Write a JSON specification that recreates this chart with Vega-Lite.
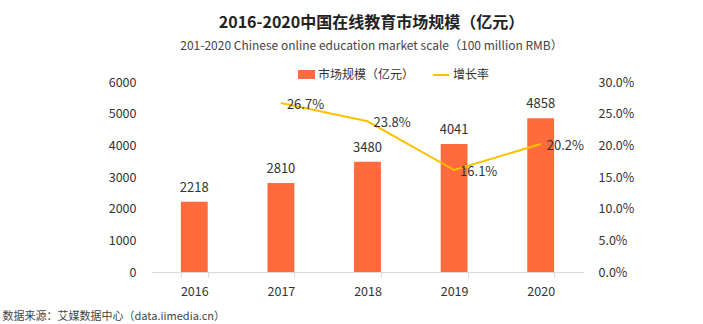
{
  "$schema": "https://vega.github.io/schema/vega-lite/v6.json",
  "width": 433,
  "height": 190,
  "autosize": {"type": "none"},
  "padding": {"left": 151, "top": 82, "right": 119, "bottom": 52},
  "background": "white",
  "config": {
    "font": "Noto Sans CJK SC",
    "view": {"stroke": null},
    "axis": {"grid": false, "labelFont": "Noto Sans CJK SC", "titleFont": "Noto Sans CJK SC"},
    "legend": {"labelFont": "Noto Sans CJK SC"}
  },
  "title": {
    "text": "2016-2020中国在线教育市场规模（亿元）",
    "subtitle": "201-2020 Chinese online education market scale（100 million RMB）",
    "anchor": "middle",
    "dx": 4,
    "fontSize": 16,
    "fontWeight": "bold",
    "font": "Noto Sans CJK SC",
    "color": "#222222",
    "subtitleFont": "Noto Sans CJK SC",
    "subtitleFontSize": 12,
    "subtitleColor": "#444444",
    "subtitlePadding": 10,
    "offset": 14
  },
  "data": {
    "values": [
      {"year": "2016", "scale": 2218, "rate": null},
      {"year": "2017", "scale": 2810, "rate": 0.267},
      {"year": "2018", "scale": 3480, "rate": 0.238},
      {"year": "2019", "scale": 4041, "rate": 0.161},
      {"year": "2020", "scale": 4858, "rate": 0.202}
    ]
  },
  "encoding": {
    "x": {
      "field": "year",
      "type": "nominal",
      "sort": null,
      "scale": {"paddingInner": 0.69, "paddingOuter": 0.345},
      "axis": {
        "labelAngle": 0,
        "labelFontSize": 12.5,
        "labelColor": "#333333",
        "labelPadding": 8,
        "domainColor": "#d9d9d9",
        "tickColor": "#d9d9d9",
        "tickBand": "extent",
        "tickSize": 5,
        "title": "数据来源：艾媒数据中心（data.iimedia.cn）",
        "titleFontSize": 11,
        "titleFontWeight": "normal",
        "titleColor": "#444444",
        "titleAnchor": "start",
        "titleAlign": "left",
        "titleBaseline": "alphabetic",
        "titleX": -149,
        "titleY": 47
      }
    }
  },
  "layer": [
    {
      "encoding": {
        "y": {
          "field": "scale",
          "type": "quantitative",
          "scale": {"domain": [0, 6000]},
          "axis": {
            "orient": "left",
            "title": null,
            "format": "d",
            "values": [0, 1000, 2000, 3000, 4000, 5000, 6000],
            "domain": false,
            "ticks": false,
            "labelPadding": 15,
            "labelFontSize": 12.5,
            "labelColor": "#333333"
          }
        }
      },
      "layer": [
        {
          "mark": {"type": "bar"},
          "encoding": {
            "fill": {
              "datum": "市场规模（亿元）",
              "scale": {"range": ["#FF6B3C"]},
              "legend": {
                "orient": "none",
                "legendX": 147,
                "legendY": -16,
                "title": null,
                "padding": 0,
                "symbolType": "M-1,-0.53H1V0.53H-1Z",
                "symbolSize": 289,
                "symbolStrokeWidth": 0,
                "labelFontSize": 12,
                "labelColor": "#333333",
                "labelOffset": 3
              }
            }
          }
        },
        {
          "mark": {"type": "text", "baseline": "alphabetic", "dy": -10, "fontSize": 13, "color": "#333333"},
          "encoding": {"text": {"field": "scale", "type": "quantitative", "format": "d"}}
        }
      ]
    },
    {
      "transform": [{"filter": "datum.rate != null"}],
      "encoding": {
        "y": {
          "field": "rate",
          "type": "quantitative",
          "scale": {"domain": [0, 0.3]},
          "axis": {
            "orient": "right",
            "title": null,
            "format": ".1%",
            "values": [0, 0.05, 0.1, 0.15, 0.2, 0.25, 0.3],
            "domain": false,
            "ticks": false,
            "labelPadding": 14,
            "labelFontSize": 12.5,
            "labelColor": "#333333"
          }
        }
      },
      "layer": [
        {
          "mark": {"type": "line", "strokeWidth": 2},
          "encoding": {
            "stroke": {
              "datum": "增长率",
              "scale": {"range": ["#FFC000"]},
              "legend": {
                "orient": "none",
                "legendX": 281,
                "legendY": -16,
                "title": null,
                "padding": 0,
                "symbolType": "stroke",
                "symbolSize": 256,
                "symbolStrokeWidth": 2,
                "labelFontSize": 12,
                "labelColor": "#333333",
                "labelOffset": 3
              }
            }
          }
        },
        {
          "mark": {"type": "text", "align": "left", "baseline": "middle", "dx": 6, "dy": 2, "fontSize": 13, "color": "#333333"},
          "encoding": {"text": {"field": "rate", "type": "quantitative", "format": ".1%"}}
        }
      ]
    }
  ],
  "resolve": {"scale": {"y": "independent"}}
}
